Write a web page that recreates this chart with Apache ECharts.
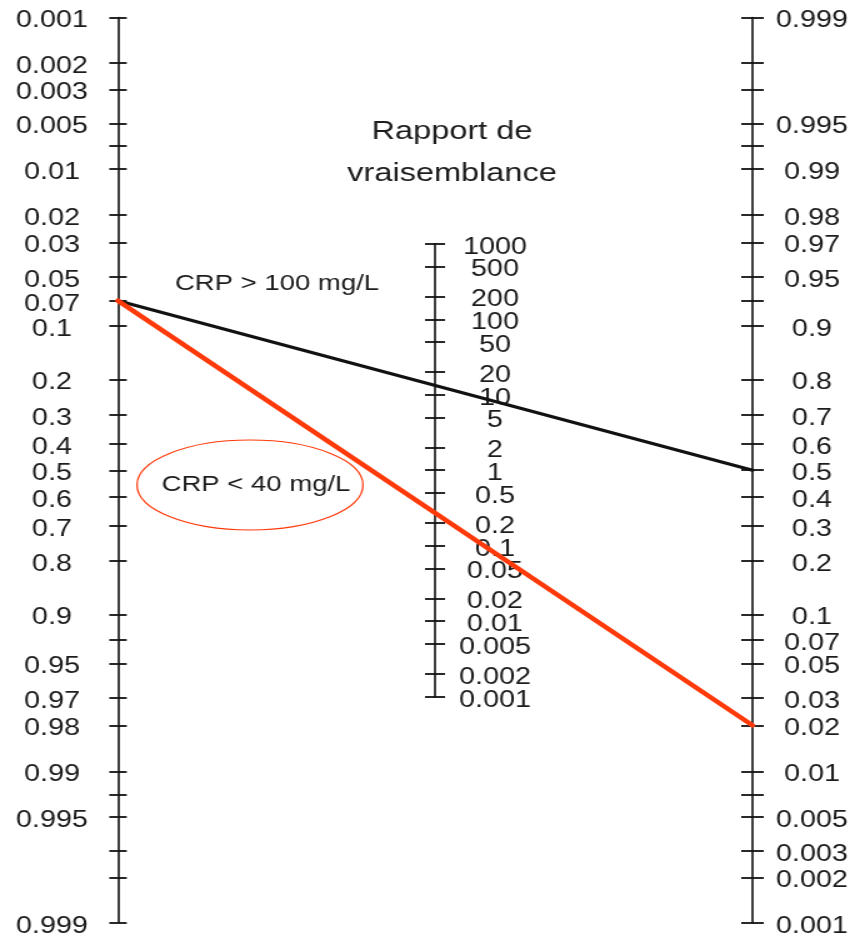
<!DOCTYPE html>
<html>
<head>
<meta charset="utf-8">
<script src="https://cdn.jsdelivr.net/npm/echarts@6/dist/echarts.min.js"></script>
<style>
  html, body { margin: 0; padding: 0; background: #fff; overflow: hidden; }
  /* drawn on a narrower canvas, then widened so the lettering gets its broad look */
  #chart { width: 681.6px; height: 939px; transform: scaleX(1.25); transform-origin: 0 0; }
</style>
</head>
<body>
<div id="chart"></div>
<script>
// Fagan nomogram: pre-test probability (left), likelihood ratio (middle), post-test probability (right)
const preTestLabels = ['0.001', '0.002', '0.003', '0.005', '0.01', '0.02', '0.03', '0.05', '0.07',
  '0.1', '0.2', '0.3', '0.4', '0.5', '0.6', '0.7', '0.8', '0.9',
  '0.95', '0.97', '0.98', '0.99', '0.995', '0.999'];
const preTestExtraTicks = ['0.007', '0.93', '0.993', '0.997', '0.998'];

const postTestLabels = ['0.999', '0.995', '0.99', '0.98', '0.97', '0.95', '0.9',
  '0.8', '0.7', '0.6', '0.5', '0.4', '0.3', '0.2', '0.1',
  '0.07', '0.05', '0.03', '0.02', '0.01', '0.005', '0.003', '0.002', '0.001'];
const postTestExtraTicks = ['0.998', '0.997', '0.993', '0.93', '0.007'];

const ratioLabels = ['1000', '500', '200', '100', '50', '20', '10', '5', '2', '1',
  '0.5', '0.2', '0.1', '0.05', '0.02', '0.01', '0.005', '0.002', '0.001'];

const ratioTitle = 'Rapport de\nvraisemblance';
const preTest = 0.07;
const groupNames = ['CRP > 100 mg/L', 'CRP < 40 mg/L'];
const postTest = [0.5, 0.02];
const groupColors = ['#111111', '#ff3a0a'];

const SX = 1.25;                 // horizontal widening applied by the stylesheet
const px = x => x / SX;          // page x -> canvas x
const FONT = 'Liberation Sans, Arial, sans-serif';
const INK = '#1c1c1c';

const logit = p => Math.log(p / (1 - p));
const log10 = v => Math.log10(v);

function formatterFor(strs, fn) {
  const m = new Map();
  strs.forEach(s => m.set(fn(+s).toFixed(6), s));
  return v => m.get(Number(v).toFixed(6)) || '';
}

const preLabelVals = preTestLabels.map(s => logit(+s));
const preTickVals = preTestLabels.concat(preTestExtraTicks).map(s => logit(+s));
const postLabelVals = postTestLabels.map(s => logit(+s));
const postTickVals = postTestLabels.concat(postTestExtraTicks).map(s => logit(+s));
const ratioVals = ratioLabels.map(s => log10(+s));
// the ratio numbers are packed tightly, so they are shared out between the two
// overlaid ratio axes (alternate values on each) and none gets dropped as an overlap
const ratioValsA = ratioVals.filter((v, i) => i % 2 === 0);
const ratioValsB = ratioVals.filter((v, i) => i % 2 === 1);

const probMin = Math.min(...preTickVals), probMax = Math.max(...preTickVals);
const ratioMin = Math.min(...ratioVals), ratioMax = Math.max(...ratioVals);

// a short line box hung from the tick keeps each number sitting just below its tick
const labelStyle = { fontFamily: FONT, fontSize: 23, color: INK, align: 'center',
  verticalAlign: 'top', lineHeight: 7, hideOverlap: false,
  showMinLabel: true, showMaxLabel: true };
const lineStyle = { color: '#111', width: 1.6 };
const tickLine = { color: '#111', width: 1.8 };

function scaleAxis(o) {
  return Object.assign({
    type: 'value', splitLine: { show: false },
    axisLine: { show: true, onZero: false, lineStyle },
  }, o);
}

// grid 0 spans the two probability scales; grid 1 holds the likelihood-ratio scale,
// whose decades are half as tall per log-odds unit as the outer scales
const gridTop = 17.5, gridBottom = 923;
const gridMid = (gridTop + gridBottom) / 2;
const pxPerLogit = (gridBottom - gridTop) / (probMax - probMin);
const ratioHalf = (ratioMax - ratioMin) / 2 * pxPerLogit * Math.LN10 / 2;
const ratioFormatter = formatterFor(ratioLabels, log10);

const option = {
  backgroundColor: '#fff',
  animation: false,
  grid: [
    { left: px(118), right: px(852 - 752), top: gridTop, bottom: 939 - gridBottom, outerBoundsMode: 'none' },
    { left: px(435), width: 1, top: gridMid - ratioHalf, height: 2 * ratioHalf, outerBoundsMode: 'none' }
  ],
  xAxis: [
    { type: 'value', gridIndex: 0, min: 0, max: 1, show: false },
    { type: 'value', gridIndex: 1, min: 0, max: 1, show: false }
  ],
  yAxis: [
    // pre-test probability, labels and outer ticks
    scaleAxis({ gridIndex: 0, position: 'left', inverse: true, min: probMin, max: probMax,
      axisTick: { show: true, length: 7, lineStyle: tickLine, customValues: preTickVals },
      axisLabel: Object.assign({}, labelStyle, { margin: px(66), customValues: preLabelVals,
        formatter: formatterFor(preTestLabels, logit) }) }),
    // pre-test probability, inner ticks
    scaleAxis({ gridIndex: 0, position: 'left', inverse: true, min: probMin, max: probMax,
      axisLine: { show: false, onZero: false },
      axisTick: { show: true, inside: true, length: 7, lineStyle: tickLine, customValues: preTickVals },
      axisLabel: { show: false } }),
    // post-test probability, labels and outer ticks
    scaleAxis({ gridIndex: 0, position: 'right', min: probMin, max: probMax,
      axisTick: { show: true, length: 9, lineStyle: tickLine, customValues: postTickVals },
      axisLabel: Object.assign({}, labelStyle, { margin: px(59.5), customValues: postLabelVals,
        formatter: formatterFor(postTestLabels, logit) }) }),
    // post-test probability, inner ticks
    scaleAxis({ gridIndex: 0, position: 'right', min: probMin, max: probMax,
      axisLine: { show: false, onZero: false },
      axisTick: { show: true, inside: true, length: 9, lineStyle: tickLine, customValues: postTickVals },
      axisLabel: { show: false } }),
    // likelihood ratio, left-hand ticks and every other number
    scaleAxis({ gridIndex: 1, position: 'left', min: ratioMin, max: ratioMax,
      axisTick: { show: true, length: 8, lineStyle: tickLine, customValues: ratioVals },
      axisLabel: Object.assign({}, labelStyle, { inside: true, margin: px(60), customValues: ratioValsA,
        formatter: ratioFormatter }) }),
    // likelihood ratio, right-hand ticks and the remaining numbers
    scaleAxis({ gridIndex: 1, position: 'left', min: ratioMin, max: ratioMax,
      axisLine: { show: false, onZero: false },
      axisTick: { show: true, inside: true, length: 8, lineStyle: tickLine, customValues: ratioVals },
      axisLabel: Object.assign({}, labelStyle, { inside: true, margin: px(60), customValues: ratioValsB,
        formatter: ratioFormatter }) })
  ],
  // The right scale mirrors the left one, so a post-test probability p lies
  // at the height of -logit(p) on the (inverted) left scale.
  series: groupNames.map((name, i) => ({
    name: name,
    type: 'line',
    xAxisIndex: 0,
    yAxisIndex: 0,
    symbol: 'none',
    z: 5 + i,
    lineStyle: { color: groupColors[i], width: i === 0 ? 3.2 : 4.4, cap: 'round' },
    data: [[0, logit(preTest)], [1, -logit(postTest[i])]]
  })),
  graphic: [
    { type: 'text', x: px(452), y: 153, z: 10,
      style: { text: ratioTitle, font: '26px ' + FONT, fill: INK, align: 'center',
        verticalAlign: 'middle', lineHeight: 42 } },
    { type: 'text', x: px(277), y: 284, z: 10,
      style: { text: groupNames[0], font: '22px ' + FONT, fill: INK, align: 'center', verticalAlign: 'middle' } },
    { type: 'text', x: px(256), y: 485, z: 10,
      style: { text: groupNames[1], font: '22px ' + FONT, fill: INK, align: 'center', verticalAlign: 'middle' } },
    { type: 'ellipse', z: 10,
      shape: { cx: px(250), cy: 485, rx: px(113), ry: 45 },
      style: { fill: 'none', stroke: groupColors[1], lineWidth: 1.2 } }
  ]
};

const chart = echarts.init(document.getElementById('chart'), null, { renderer: 'canvas' });
chart.setOption(option);
</script>
</body>
</html>
